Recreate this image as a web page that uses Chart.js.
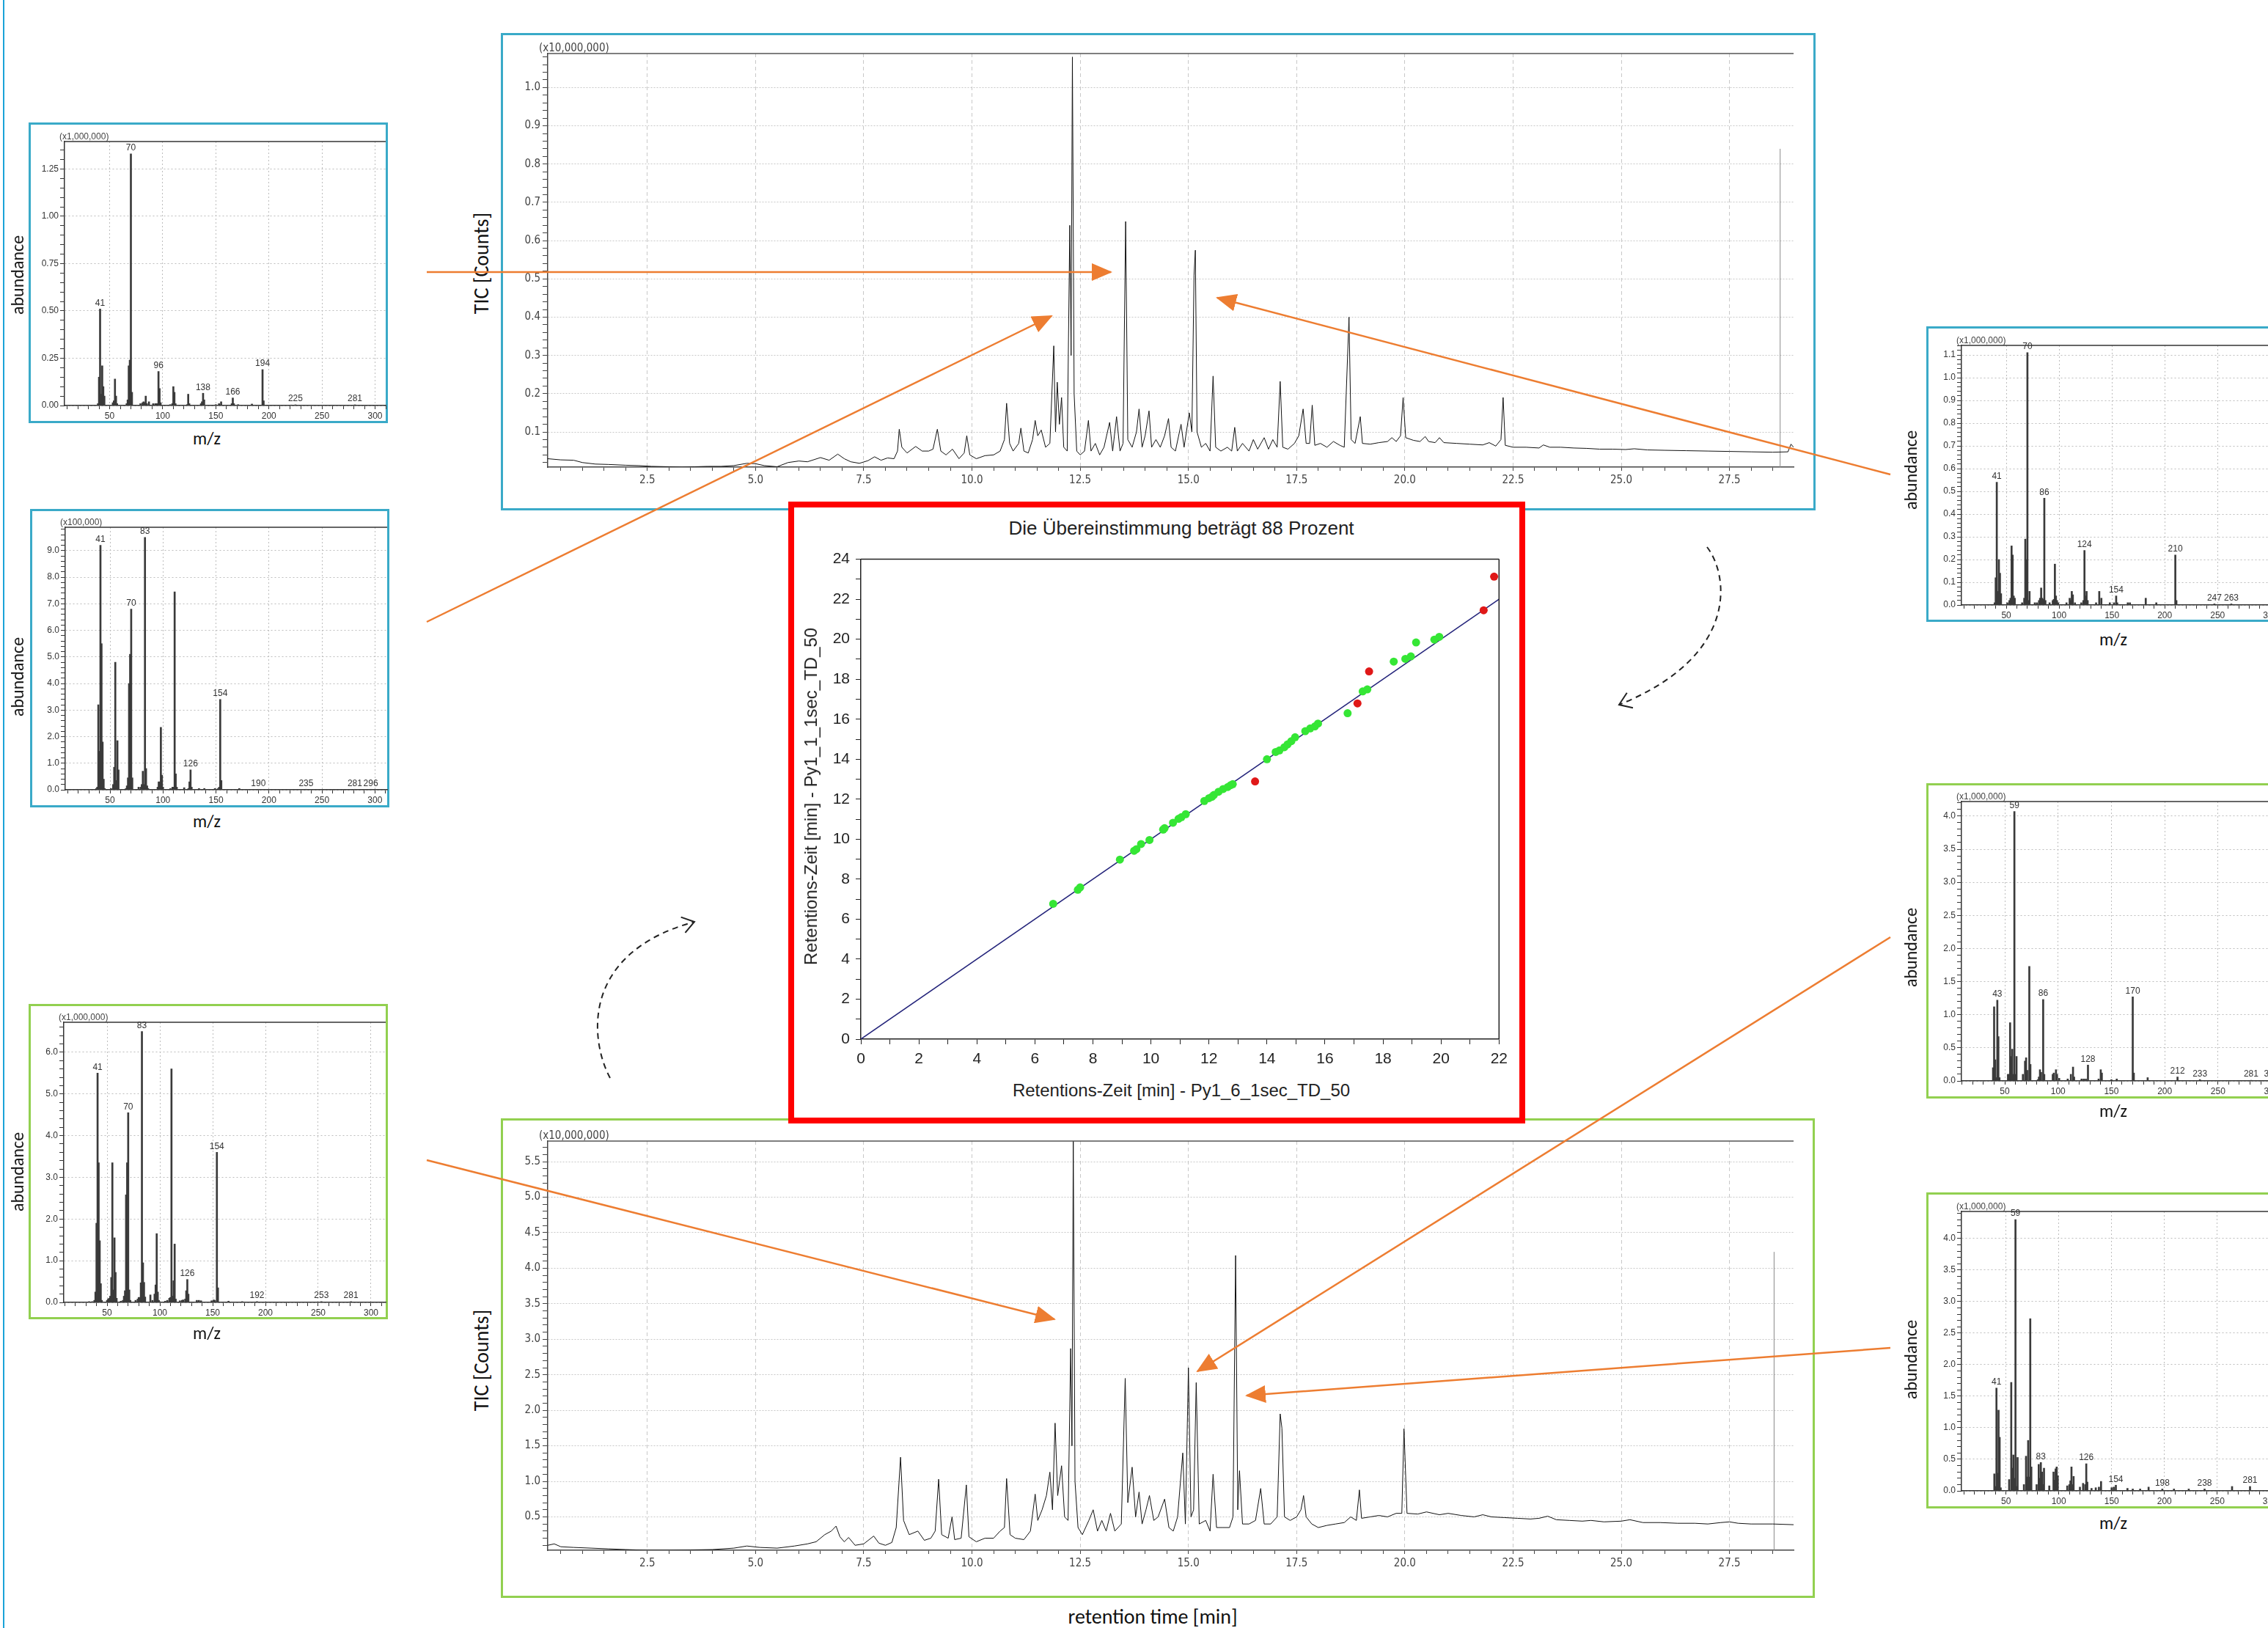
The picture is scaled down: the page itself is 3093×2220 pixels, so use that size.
<!DOCTYPE html>
<html><head><meta charset="utf-8">
<script src="https://cdn.jsdelivr.net/npm/chart.js@4.4.1/dist/chart.umd.min.js"></script>
<style>
html,body{margin:0;padding:0;background:#fff;}
body{width:3093px;height:2220px;overflow:hidden;position:relative;}
canvas{position:absolute;}
.box{position:absolute;box-sizing:border-box;}
.lbl{position:absolute;white-space:nowrap;line-height:1;transform:translate(-50%,-50%);color:#111;z-index:5;}
.rot{transform:translate(-50%,-50%) rotate(-90deg);}
</style></head><body>
<div class="box" style="left:4px;top:0;width:2px;height:2220px;background:#1aa3d8;"></div>
<script>
// ---------------- DATA ----------------
// Scatter: retention-time comparison
const greenX = [6.63,7.48,7.56,8.93,9.42,9.5,9.66,9.95,10.42,10.47,10.76,10.95,11.05,11.2,11.84,12.0,12.1,12.17,12.33,12.49,12.65,12.75,12.82,14.0,14.3,14.43,14.6,14.71,14.84,14.97,15.32,15.49,15.65,15.76,16.78,17.3,17.46,18.37,18.77,18.96,19.14,19.77,19.94];
const greenY = [6.77,7.47,7.59,8.98,9.42,9.5,9.76,9.96,10.48,10.55,10.82,11.02,11.1,11.25,11.91,12.05,12.12,12.21,12.37,12.51,12.61,12.7,12.75,14.0,14.36,14.44,14.6,14.74,14.9,15.1,15.4,15.54,15.64,15.78,16.3,17.39,17.49,18.88,19.02,19.14,19.84,19.98,20.12];
const redX = [13.59,17.12,17.52,21.47,21.83];
const redY = [12.89,16.79,18.39,21.45,23.13];
const diagX = [0,22];
const diagY = [0,22];

// TIC chromatogram 1 (x10,000,000)
const ticTopT = [0.2,0.5,0.8,1.0,1.3,1.6,2.0,2.3,2.6,3.0,3.3,3.6,3.9,4.2,4.5,4.8,5.0,5.2,5.5,5.75,6.0,6.2,6.5,6.7,6.9,7.05,7.2,7.4,7.6,7.75,7.9,8.05,8.2,8.28,8.32,8.38,8.5,8.7,8.85,9.0,9.1,9.2,9.28,9.4,9.55,9.7,9.82,9.88,9.95,10.1,10.3,10.5,10.65,10.75,10.8,10.87,10.95,11.08,11.13,11.2,11.3,11.4,11.46,11.52,11.6,11.7,11.8,11.89,11.93,11.97,12.02,12.07,12.12,12.2,12.26,12.29,12.32,12.36,12.42,12.5,12.6,12.69,12.75,12.85,12.95,13.05,13.18,13.25,13.34,13.42,13.49,13.55,13.6,13.7,13.8,13.86,13.93,14.0,14.09,14.15,14.25,14.35,14.45,14.54,14.6,14.7,14.83,14.9,15.02,15.08,15.13,15.16,15.2,15.3,15.4,15.5,15.57,15.63,15.75,15.9,16.0,16.07,16.13,16.25,16.4,16.5,16.6,16.75,16.85,16.95,17.05,17.12,17.18,17.3,17.45,17.55,17.65,17.72,17.8,17.86,17.92,18.05,18.2,18.35,18.5,18.6,18.71,18.76,18.85,18.97,19.02,19.2,19.4,19.6,19.7,19.8,19.9,19.96,20.02,20.2,20.35,20.47,20.55,20.7,20.8,20.9,21.2,21.5,21.8,21.95,22.1,22.22,22.27,22.32,22.5,22.8,23.1,23.2,23.35,23.6,23.9,24.2,24.5,24.8,25.1,25.3,25.6,26.0,26.5,27.0,27.5,28.0,28.5,28.85,28.92,28.98];
const ticTopV = [0.03,0.027,0.026,0.02,0.016,0.015,0.013,0.012,0.01,0.009,0.008,0.009,0.01,0.01,0.012,0.018,0.017,0.012,0.009,0.02,0.024,0.022,0.033,0.026,0.042,0.03,0.022,0.018,0.025,0.035,0.026,0.032,0.03,0.05,0.107,0.06,0.045,0.062,0.05,0.05,0.055,0.107,0.05,0.04,0.055,0.03,0.045,0.09,0.04,0.03,0.038,0.04,0.05,0.08,0.175,0.07,0.05,0.07,0.11,0.05,0.045,0.08,0.13,0.09,0.105,0.06,0.07,0.325,0.1,0.23,0.12,0.19,0.06,0.05,0.64,0.3,1.08,0.2,0.05,0.04,0.05,0.13,0.05,0.07,0.04,0.06,0.125,0.05,0.14,0.05,0.07,0.65,0.08,0.06,0.1,0.16,0.06,0.09,0.155,0.06,0.08,0.06,0.09,0.135,0.06,0.05,0.12,0.06,0.15,0.1,0.51,0.575,0.1,0.06,0.07,0.05,0.246,0.06,0.05,0.06,0.05,0.112,0.05,0.07,0.05,0.08,0.055,0.085,0.055,0.08,0.06,0.232,0.06,0.055,0.07,0.09,0.16,0.07,0.07,0.17,0.065,0.07,0.06,0.075,0.065,0.06,0.4,0.08,0.07,0.14,0.07,0.068,0.072,0.075,0.085,0.075,0.09,0.19,0.085,0.078,0.075,0.088,0.075,0.072,0.085,0.072,0.07,0.068,0.066,0.072,0.063,0.08,0.19,0.065,0.06,0.06,0.058,0.066,0.06,0.06,0.058,0.057,0.055,0.055,0.054,0.056,0.053,0.052,0.051,0.05,0.049,0.048,0.047,0.048,0.068,0.06];
const ticTopMarkT = 28.67, ticTopMarkH = 0.84;

// TIC chromatogram 2 (x10,000,000)
const ticBotT = [0.2,0.35,0.5,0.8,1.2,1.6,2.0,2.5,3.0,3.5,4.0,4.5,4.8,5.1,5.5,5.9,6.2,6.4,6.6,6.75,6.86,6.95,7.05,7.15,7.3,7.5,7.73,7.85,8.0,8.15,8.25,8.35,8.42,8.55,8.75,8.9,9.05,9.15,9.23,9.3,9.45,9.54,9.6,9.75,9.87,9.93,10.1,10.3,10.5,10.65,10.75,10.8,10.88,11.0,11.2,11.35,11.46,11.52,11.62,11.72,11.8,11.86,11.92,11.98,12.07,12.14,12.22,12.28,12.31,12.34,12.38,12.45,12.55,12.7,12.8,12.9,13.0,13.1,13.2,13.3,13.45,13.54,13.6,13.7,13.78,13.86,13.93,14.02,14.1,14.2,14.3,14.45,14.55,14.65,14.75,14.87,14.93,15.0,15.06,15.12,15.18,15.25,15.4,15.5,15.57,15.65,15.8,15.95,16.03,16.09,16.14,16.18,16.25,16.4,16.55,16.67,16.75,16.9,17.05,17.12,17.16,17.22,17.35,17.5,17.6,17.66,17.72,17.85,18.0,18.2,18.4,18.6,18.75,18.88,18.95,19.0,19.2,19.4,19.6,19.8,19.93,19.98,20.05,20.3,20.5,20.8,21.0,21.3,21.6,21.8,22.0,22.3,22.6,22.9,23.1,23.3,23.5,23.8,24.1,24.3,24.6,25.0,25.2,25.5,25.9,26.3,26.7,27.0,27.3,27.5,27.7,28.0,28.5,28.98];
const ticBotV = [0.1,0.12,0.08,0.07,0.06,0.05,0.04,0.03,0.03,0.035,0.04,0.06,0.09,0.07,0.06,0.09,0.12,0.15,0.25,0.3,0.37,0.22,0.15,0.21,0.1,0.12,0.23,0.13,0.1,0.14,0.35,1.34,0.45,0.25,0.3,0.17,0.2,0.3,1.03,0.25,0.2,0.5,0.18,0.2,0.95,0.22,0.15,0.2,0.2,0.3,0.35,1.04,0.25,0.2,0.18,0.3,0.82,0.45,0.6,0.8,1.13,0.6,1.82,0.8,1.22,0.5,0.45,2.87,1.5,5.79,1.0,0.35,0.25,0.45,0.6,0.3,0.45,0.3,0.55,0.3,0.4,2.45,0.7,1.2,0.5,0.85,0.4,0.6,0.8,0.45,0.5,0.75,0.35,0.3,0.5,1.4,0.4,2.6,0.5,0.6,2.39,0.4,0.45,0.3,1.1,0.35,0.35,0.35,0.5,4.18,0.6,1.15,0.4,0.4,0.45,0.9,0.4,0.4,0.5,1.95,1.75,0.5,0.45,0.5,0.6,0.8,0.5,0.4,0.35,0.38,0.4,0.42,0.5,0.45,0.88,0.48,0.5,0.52,0.5,0.55,0.55,1.74,0.55,0.54,0.57,0.53,0.55,0.52,0.5,0.53,0.5,0.49,0.48,0.47,0.48,0.51,0.46,0.45,0.44,0.45,0.43,0.44,0.46,0.42,0.42,0.41,0.41,0.4,0.42,0.43,0.41,0.4,0.4,0.39];
const ticBotMarkT = 28.53, ticBotMarkH = 4.23;

// Mass spectra (m/z, abundance)
const s1Mz = [39,40,41,42,43,44,45,53,54,55,56,57,66,67,68,69,70,71,79,81,82,83,84,85,87,91,93,94,95,96,97,98,107,109,110,111,112,123,124,125,136,137,138,139,150,153,155,165,166,167,171,184,194,195,221,225,281];
const s1Ab = [0.01,0.15,0.51,0.06,0.21,0.1,0.05,0.015,0.025,0.14,0.05,0.01,0.01,0.03,0.21,0.24,1.33,0.07,0.01,0.015,0.02,0.015,0.05,0.01,0.02,0.01,0.01,0.01,0.01,0.18,0.09,0.015,0.005,0.01,0.1,0.07,0.01,0.005,0.06,0.01,0.01,0.02,0.065,0.03,0.005,0.01,0.02,0.01,0.04,0.01,0.005,0.008,0.19,0.025,0.003,0.004,0.004];
const s1Peaks = [41,70,96,138,166,194,225,281];

const s2Mz = [37,38,39,40,41,42,43,44,45,51,53,54,55,56,57,58,65,66,67,68,69,70,71,77,79,80,81,82,83,84,85,86,95,96,97,98,99,100,107,109,110,111,112,113,120,124,125,126,127,134,139,149,152,153,154,155,172,190,235,281,296];
const s2Ab = [0.05,0.1,3.2,1.45,9.2,5.5,1.8,0.4,0.05,0.05,0.2,0.85,4.8,0.35,1.85,0.75,0.05,0.15,0.45,4.0,5.1,6.8,0.45,0.1,0.1,0.2,0.7,0.2,9.5,0.8,0.15,0.05,0.1,0.3,0.3,2.35,0.55,0.1,0.05,0.1,0.1,7.45,0.6,0.1,0.08,0.05,0.3,0.75,0.1,0.05,0.05,0.05,0.05,0.1,3.4,0.35,0.05,0.02,0.02,0.02,0.02];
const s2Peaks = [41,70,83,126,154,190,235,281,296];

const s3Mz = [33,36,38,39,40,41,42,43,44,45,50,51,52,53,54,55,56,57,58,59,63,65,66,67,68,69,70,71,72,77,79,80,81,82,83,84,85,86,91,93,95,96,97,98,99,105,107,109,110,111,112,113,114,115,119,121,122,124,125,126,127,135,137,139,149,151,152,154,155,165,178,192,253,281];
const s3Ab = [0.02,0.02,0.05,0.25,1.9,5.5,3.35,1.48,0.45,0.05,0.05,0.08,0.1,0.15,0.6,3.35,0.3,1.55,0.72,0.1,0.03,0.05,0.15,0.28,2.58,3.35,4.55,0.3,0.05,0.05,0.08,0.12,0.12,0.47,6.5,0.95,0.48,0.13,0.18,0.05,0.2,0.42,1.65,0.25,0.05,0.03,0.05,0.1,0.12,5.6,0.15,0.52,1.4,0.08,0.04,0.05,0.06,0.08,0.28,0.55,0.2,0.05,0.05,0.04,0.04,0.06,0.05,3.6,0.35,0.03,0.02,0.02,0.02,0.02];
const s3Peaks = [41,70,83,126,154,192,253,281];

const s4Mz = [39,40,41,42,43,44,45,51,53,54,55,56,57,58,65,67,68,69,70,71,72,77,79,81,82,83,84,85,86,87,91,94,95,96,97,98,99,107,110,111,112,113,115,121,123,124,125,126,127,135,138,140,148,152,154,155,165,167,182,192,210,211,247,263];
const s4Ab = [0.01,0.12,0.54,0.06,0.2,0.14,0.05,0.01,0.02,0.03,0.26,0.22,0.04,0.03,0.01,0.03,0.29,0.2,1.11,0.02,0.06,0.01,0.01,0.02,0.03,0.075,0.03,0.025,0.47,0.02,0.01,0.02,0.025,0.18,0.04,0.02,0.01,0.01,0.03,0.02,0.06,0.045,0.01,0.01,0.02,0.24,0.04,0.06,0.02,0.01,0.06,0.03,0.01,0.01,0.04,0.01,0.01,0.01,0.03,0.01,0.22,0.02,0.005,0.005];
const s4Peaks = [41,70,86,124,154,210,247,263];

const s5Mz = [39,40,41,42,43,44,45,53,54,55,56,57,58,59,60,61,67,69,70,71,73,74,81,82,83,84,86,87,95,96,98,99,101,109,112,114,115,122,124,126,128,138,140,141,150,155,170,171,184,212,233,281,300];
const s5Ab = [0.2,1.12,0.32,0.05,1.22,0.67,0.05,0.1,0.1,0.88,0.37,0.48,0.1,4.07,0.1,0.37,0.1,0.3,0.35,0.16,1.73,0.25,0.02,0.06,0.17,0.13,1.23,0.1,0.1,0.12,0.17,0.1,0.04,0.03,0.1,0.21,0.06,0.03,0.03,0.03,0.24,0.03,0.17,0.12,0.02,0.03,1.27,0.12,0.05,0.06,0.02,0.01,0.01];
const s5Peaks = [43,59,86,128,170,212,233,281,300];

const s6Mz = [39,40,41,42,43,44,45,53,55,56,57,58,59,60,61,67,69,70,71,72,73,74,79,81,82,83,84,85,86,91,95,96,97,98,99,108,110,111,112,113,114,120,123,125,126,127,131,135,138,140,150,152,154,165,170,177,185,198,209,223,238,264,281];
const s6Ab = [0.27,0.07,1.63,0.28,1.28,0.85,0.05,0.18,1.72,0.36,0.57,0.2,4.3,0.07,0.53,0.1,0.55,0.22,0.8,0.22,2.73,0.38,0.1,0.42,0.2,0.45,0.3,0.1,0.36,0.08,0.3,0.17,0.35,0.38,0.24,0.08,0.1,0.16,0.38,0.1,0.23,0.06,0.12,0.1,0.43,0.14,0.04,0.05,0.06,0.15,0.05,0.06,0.09,0.04,0.03,0.03,0.06,0.03,0.03,0.03,0.03,0.07,0.07];
const s6Peaks = [41,59,83,126,154,198,238,281];

// ---------------- HELPERS ----------------
const F_ARIAL = "'Liberation Sans', Arial, sans-serif";
const F_NARROW = "'Liberation Sans Narrow','Arial Narrow','DejaVu Sans Condensed','Liberation Sans',sans-serif";
const F_CAL = "Carlito, Lato, sans-serif";
const CYAN = '#3aaac8', GREEN = '#92d050';
const isMaj = (v, m) => v != null && Math.abs(v / m - Math.round(v / m)) < 1e-6;

function addBox(l, t, r, b, color, w, z, bg) {
  const d = document.createElement('div');
  d.className = 'box';
  d.style.cssText = `left:${l}px;top:${t}px;width:${r-l}px;height:${b-t}px;border:${w}px solid ${color};z-index:${z};` + (bg ? `background:${bg};` : '');
  document.body.appendChild(d);
}
function addLabel(text, x, y, size, family, rot, extra) {
  const d = document.createElement('div');
  d.className = 'lbl' + (rot ? ' rot' : '');
  d.textContent = text;
  d.style.left = x + 'px'; d.style.top = y + 'px';
  d.style.fontSize = size + 'px'; d.style.fontFamily = family;
  if (extra) d.style.cssText += extra;
  document.body.appendChild(d);
}
function place(rect, m, z) {
  const c = document.createElement('canvas');
  const W = rect.r - rect.l + m.l + m.r, H = rect.b - rect.t + m.t + m.b;
  c.width = W; c.height = H;
  c.style.left = (rect.l - m.l) + 'px'; c.style.top = (rect.t - m.t) + 'px';
  c.style.width = W + 'px'; c.style.height = H + 'px';
  c.style.zIndex = z;
  document.body.appendChild(c);
  return c;
}
function deco(o) {
  return {
    id: 'deco',
    afterDraw(chart) {
      const {ctx, chartArea: a, scales} = chart;
      ctx.save();
      ctx.strokeStyle = o.lineColor || '#333';
      ctx.lineWidth = o.lineWidth || 1.5;
      if (o.top) { ctx.beginPath(); ctx.moveTo(a.left, a.top); ctx.lineTo(a.right, a.top); ctx.stroke(); }
      if (o.right) { ctx.beginPath(); ctx.moveTo(a.right, a.top); ctx.lineTo(a.right, a.bottom); ctx.stroke(); }
      if (o.factor) {
        ctx.fillStyle = '#444'; ctx.font = o.factorFont; ctx.textAlign = 'left'; ctx.textBaseline = 'alphabetic';
        ctx.fillText(o.factor, a.left + o.factorDx, a.top - 3);
      }
      if (o.peaks) {
        ctx.fillStyle = '#333'; ctx.font = '12px ' + F_ARIAL; ctx.textAlign = 'center'; ctx.textBaseline = 'bottom';
        o.peaks.forEach(p => {
          const i = o.mz.indexOf(p);
          const v = i >= 0 ? o.ab[i] : 0;
          ctx.fillText(String(p), scales.x.getPixelForValue(p), scales.y.getPixelForValue(v) - 2);
        });
      }
      ctx.restore();
    }
  };
}
const baseOpts = () => ({
  responsive: false, animation: false, devicePixelRatio: 1,
  plugins: {legend: {display: false}, tooltip: {enabled: false}, title: {display: false}}
});

function spectrum(rect, mz, ab, peaks, o) {
  const m = {l: 56, t: 22, r: 4, b: 28};
  const c = place(rect, m, 2);
  const opts = baseOpts();
  opts.layout = {padding: {top: m.t, right: m.r, left: 0, bottom: 0}};
  opts.scales = {
    x: {type: 'linear', min: o.xmin, max: o.xmax, offset: false,
      afterFit: s => { s.height = m.b; },
      grid: {offset: false, color: k => (k.tick && isMaj(k.tick.value, 50)) ? '#bdbdbd' : 'rgba(0,0,0,0)', tickColor: '#333', tickLength: 5, lineWidth: 1},
      border: {color: '#333', width: 1.5, dash: [2, 3]},
      ticks: {stepSize: 10, autoSkip: false, maxRotation: 0, includeBounds: false, maxTicksLimit: 1000, padding: 2, color: '#333', font: {family: F_ARIAL, size: 12},
        callback: v => isMaj(v, 50) ? String(v) : ''}},
    y: {type: 'linear', min: 0, max: o.ymax,
      afterFit: s => { s.width = m.l; },
      grid: {color: k => (k.tick && isMaj(k.tick.value, o.ymaj)) ? '#bdbdbd' : 'rgba(0,0,0,0)', tickColor: '#333', tickLength: 6, lineWidth: 1},
      border: {color: '#333', width: 1.5, dash: [2, 3]},
      ticks: {stepSize: o.ymin, autoSkip: false, includeBounds: false, maxTicksLimit: 1000, padding: 2, color: '#333', font: {family: F_ARIAL, size: 12},
        callback: v => isMaj(v, o.ymaj) ? v.toFixed(o.dec) : ''}}
  };
  new Chart(c, {
    type: 'bar',
    data: {datasets: [{data: mz.map((x, i) => ({x: x, y: ab[i]})), backgroundColor: '#3a3a3a', barThickness: 2, borderWidth: 0}]},
    options: opts,
    plugins: [deco({top: true, factor: o.factor, factorFont: '12px ' + F_ARIAL, factorDx: -7, peaks: peaks, mz: mz, ab: ab})]
  });
}

function tic(rect, t, v, markT, markH, o) {
  const m = {l: 60, t: 30, r: 6, b: 40};
  const c = place(rect, m, 2);
  const opts = baseOpts();
  opts.layout = {padding: {top: m.t, right: m.r, left: 0, bottom: 0}};
  opts.scales = {
    x: {type: 'linear', min: 0.2, max: 28.98,
      afterFit: s => { s.height = m.b; },
      grid: {color: k => (k.tick && isMaj(k.tick.value, 2.5)) ? '#c8c8c8' : 'rgba(0,0,0,0)', tickColor: '#444', tickLength: 5, lineWidth: 1},
      border: {color: '#444', width: 1.5, dash: [5, 4]},
      ticks: {stepSize: 0.5, autoSkip: false, maxRotation: 0, includeBounds: false, maxTicksLimit: 1000, padding: 4, color: '#444', font: {family: F_NARROW, size: 15},
        callback: v => isMaj(v, 2.5) ? v.toFixed(1) : ''}},
    y: {type: 'linear', min: o.ymin, max: o.ymax,
      afterFit: s => { s.width = m.l; },
      grid: {color: k => (k.tick && isMaj(k.tick.value, o.ymaj)) ? '#c8c8c8' : 'rgba(0,0,0,0)', tickColor: '#444', tickLength: 7, lineWidth: 1},
      border: {color: '#444', width: 1.5, dash: [2, 2]},
      ticks: {stepSize: o.yminor, autoSkip: false, includeBounds: false, maxTicksLimit: 1000, padding: 3, color: '#444', font: {family: F_NARROW, size: 15},
        callback: val => isMaj(val, o.ymaj) ? val.toFixed(1) : ''}}
  };
  new Chart(c, {
    type: 'line',
    data: {datasets: [
      {data: t.map((x, i) => ({x: x, y: v[i]})), borderColor: '#111', borderWidth: 1, pointRadius: 0, tension: 0},
      {data: [{x: markT, y: o.ymin}, {x: markT, y: markH}], borderColor: '#8a8a8a', borderWidth: 1, pointRadius: 0}
    ]},
    options: opts,
    plugins: [deco({top: true, lineColor: '#555', factor: '(x10,000,000)', factorFont: '15px ' + F_NARROW, factorDx: -12})]
  });
}

// ---------------- LAYOUT ----------------
// boxes
addBox(683, 45, 2476, 696, CYAN, 3, 1);
addBox(683, 1525, 2475, 2179, GREEN, 3, 1);
addBox(39, 167, 529, 577, CYAN, 3, 1);
addBox(41, 694, 531, 1101, CYAN, 3, 1);
addBox(39, 1369, 529, 1799, GREEN, 3, 1);
addBox(2627, 445, 3122, 848, CYAN, 3, 1);
addBox(2627, 1068, 3122, 1498, GREEN, 3, 1);
addBox(2627, 1626, 3122, 2057, GREEN, 3, 1);

// chromatograms
tic({l: 747, t: 73, r: 2446, b: 637}, ticTopT, ticTopV, ticTopMarkT, ticTopMarkH, {ymin: 0.008, ymax: 1.089, ymaj: 0.1, yminor: 0.02});
tic({l: 747, t: 1556, r: 2446, b: 2114}, ticBotT, ticBotV, ticBotMarkT, ticBotMarkH, {ymin: 0.03, ymax: 5.79, ymaj: 0.5, yminor: 0.1});

// spectra
spectrum({l: 88, t: 193, r: 526, b: 553}, s1Mz, s1Ab, s1Peaks, {xmin: 7.5, xmax: 310, ymax: 1.395, ymaj: 0.25, ymin: 0.05, dec: 2, factor: '(x1,000,000)'});
spectrum({l: 89, t: 719, r: 528, b: 1077}, s2Mz, s2Ab, s2Peaks, {xmin: 7.8, xmax: 311.5, ymax: 9.88, ymaj: 1, ymin: 0.2, dec: 1, factor: '(x100,000)'});
spectrum({l: 87, t: 1394, r: 526, b: 1776}, s3Mz, s3Ab, s3Peaks, {xmin: 9, xmax: 313.9, ymax: 6.72, ymaj: 1, ymin: 0.2, dec: 1, factor: '(x1,000,000)'});
spectrum({l: 2675, t: 471, r: 3113, b: 825}, s4Mz, s4Ab, s4Peaks, {xmin: 7.6, xmax: 311.6, ymax: 1.142, ymaj: 0.1, ymin: 0.02, dec: 1, factor: '(x1,000,000)'});
spectrum({l: 2675, t: 1093, r: 3113, b: 1474}, s5Mz, s5Ab, s5Peaks, {xmin: 9.4, xmax: 310.6, ymax: 4.22, ymaj: 0.5, ymin: 0.1, dec: 1, factor: '(x1,000,000)'});
spectrum({l: 2675, t: 1652, r: 3113, b: 2033}, s6Mz, s6Ab, s6Peaks, {xmin: 7.9, xmax: 311.9, ymax: 4.43, ymaj: 0.5, ymin: 0.1, dec: 1, factor: '(x1,000,000)'});

// central comparison
addBox(1075, 684, 2080, 1532, '#ff0000', 8, 3, '#fff');
(function () {
  const rect = {l: 1174, t: 756, r: 2050, b: 1417};
  const m = {l: 70, t: 14, r: 14, b: 46};
  const c = place(rect, m, 4);
  const opts = baseOpts();
  opts.layout = {padding: {top: m.t, right: m.r, left: 0, bottom: 0}};
  const tk = {stepSize: 1, autoSkip: false, maxRotation: 0, includeBounds: false, maxTicksLimit: 1000, color: '#222', font: {family: F_ARIAL, size: 21}, callback: v => isMaj(v, 2) ? String(v) : ''};
  opts.scales = {
    x: {type: 'linear', min: 0, max: 22, afterFit: s => { s.height = m.b; },
      grid: {drawOnChartArea: false, tickColor: '#222', tickLength: 7},
      border: {color: '#222', width: 1.5},
      ticks: Object.assign({}, tk, {padding: 8})},
    y: {type: 'linear', min: 0, max: 24, afterFit: s => { s.width = m.l; },
      grid: {drawOnChartArea: false, tickColor: '#222', tickLength: 7},
      border: {color: '#222', width: 1.5},
      ticks: Object.assign({}, tk, {padding: 8})}
  };
  new Chart(c, {
    type: 'scatter',
    data: {datasets: [
      {data: greenX.map((x, i) => ({x: x, y: greenY[i]})), backgroundColor: '#35e635', borderWidth: 0, pointRadius: 5.5},
      {data: redX.map((x, i) => ({x: x, y: redY[i]})), backgroundColor: '#e01818', borderWidth: 0, pointRadius: 5.5},
      {type: 'line', data: diagX.map((x, i) => ({x: x, y: diagY[i]})), borderColor: '#23237a', borderWidth: 1.5, pointRadius: 0, tension: 0}
    ]},
    options: opts,
    plugins: [deco({top: true, right: true, lineColor: '#222'})]
  });
})();

// text labels
addLabel('Die Übereinstimmung beträgt 88 Prozent', 1611, 720, 26, F_ARIAL, false, 'z-index:5;color:#222;');
addLabel('Retentions-Zeit [min] - Py1_6_1sec_TD_50', 1611, 1487, 24, F_ARIAL, false, 'z-index:5;color:#222;');
addLabel('Retentions-Zeit [min] - Py1_1_1sec_TD_50', 1106, 1086, 24, F_ARIAL, true, 'z-index:5;color:#222;');
addLabel('TIC [Counts]', 657, 359, 28, F_CAL, true);
addLabel('TIC [Counts]', 657, 1855, 28, F_CAL, true);
addLabel('retention time [min]', 1572, 2205, 28, F_CAL, false);
[[24, 375], [24, 923], [24, 1598], [2606, 641], [2606, 1292], [2606, 1854]].forEach(p => addLabel('abundance', p[0], p[1], 24, F_CAL, true));
[[282, 598], [282, 1120], [282, 1818], [2882, 872], [2882, 1515], [2882, 2077]].forEach(p => addLabel('m/z', p[0], p[1], 24, F_CAL, false));
</script>
<svg width="3093" height="2220" style="position:absolute;left:0;top:0;z-index:6;pointer-events:none">
<defs>
<marker id="ah" markerUnits="userSpaceOnUse" markerWidth="28" markerHeight="24" refX="26" refY="12" orient="auto"><path d="M0,0 L28,12 L0,24 z" fill="#ED7D31"/></marker>
<marker id="oh" markerUnits="userSpaceOnUse" markerWidth="22" markerHeight="26" refX="18" refY="13" orient="auto"><path d="M2,2 L18,13 L2,24" fill="none" stroke="#222" stroke-width="2"/></marker>
</defs>
<g stroke="#ED7D31" stroke-width="2.5" fill="none">
<line x1="582" y1="371" x2="1515" y2="371" marker-end="url(#ah)"/>
<line x1="582" y1="848" x2="1434" y2="431" marker-end="url(#ah)"/>
<line x1="2578" y1="647" x2="1660" y2="406" marker-end="url(#ah)"/>
<line x1="582" y1="1582" x2="1438" y2="1799" marker-end="url(#ah)"/>
<line x1="2578" y1="1278" x2="1633" y2="1870" marker-end="url(#ah)"/>
<line x1="2578" y1="1838" x2="1700" y2="1903" marker-end="url(#ah)"/>
</g>
<path d="M2328,746 C2358,785 2372,895 2208,961" stroke="#222" stroke-width="2" stroke-dasharray="8,6" fill="none" marker-end="url(#oh)"/>
<path d="M832,1470 C805,1420 790,1300 947,1257" stroke="#222" stroke-width="2" stroke-dasharray="8,6" fill="none" marker-end="url(#oh)"/>
</svg>
</body></html>
